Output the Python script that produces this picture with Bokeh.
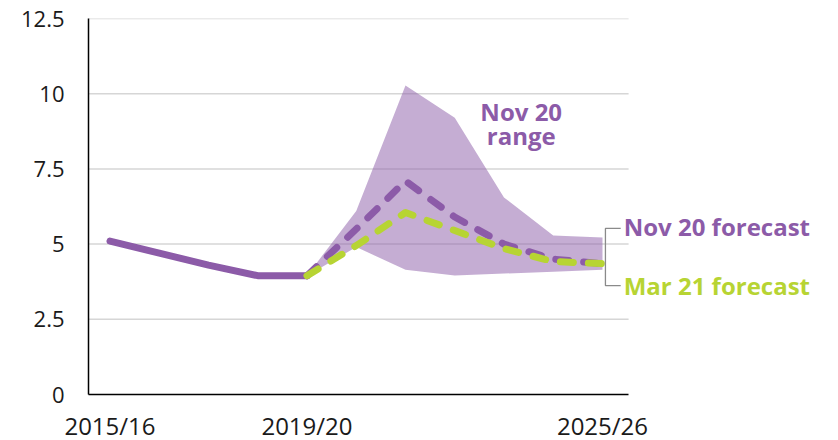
from bokeh.plotting import figure
from bokeh.models import Range1d, FixedTicker, Label
from bokeh.embed import file_html
from bokeh.resources import INLINE

years = ["2015/16", "2016/17", "2017/18", "2018/19", "2019/20", "2020/21",
         "2021/22", "2022/23", "2023/24", "2024/25", "2025/26"]
outturn = [5.1, 4.7, 4.3, 3.95, 3.95]
nov20_forecast = [3.95, 5.5, 7.1, 5.9, 5.0, 4.5, 4.35]
mar21_forecast = [3.95, 4.95, 6.05, 5.45, 4.85, 4.42, 4.35]
range_upper = [3.95, 6.1, 10.27, 9.2, 6.55, 5.29, 5.22]
range_lower = [3.95, 4.9, 4.15, 3.96, 4.02, 4.08, 4.15]
shown_ticks = ["2015/16", "2019/20", "2025/26"]
y_ticks = [0, 2.5, 5, 7.5, 10, 12.5]
y_labels = ["0", "2.5", "5", "7.5", "10", "12.5"]

PURPLE = "#8C5BA8"
GREEN = "#B7D433"
FONT = "Open Sans"

idx = list(range(len(years)))
hist_x = idx[:len(outturn)]
fc_x = idx[len(outturn) - 1:]

X0 = -0.4365          # left edge of plotting area
AXIS_END = 10.53      # where axis/grid stop
X1 = 14.63            # frame extends to the right so labels can sit there

p = figure(frame_width=742, frame_height=376, output_backend="svg", toolbar_location=None,
           x_range=Range1d(X0, X1), y_range=Range1d(0, 12.5),
           min_border_left=88, min_border_right=0, min_border_top=18,
           min_border_bottom=0)
p.outline_line_color = None
p.background_fill_color = "white"
p.xgrid.grid_line_color = None
p.ygrid.grid_line_color = None

# manual horizontal gridlines limited to axis extent
gy = [y for y in y_ticks if y > 0]
p.segment(x0=[X0] * len(gy), x1=[AXIS_END] * len(gy), y0=gy, y1=gy,
          line_color="#D6D6D6", line_width=1.5)

# range band
band_x = fc_x + fc_x[::-1]
band_y = range_upper + range_lower[::-1]
p.patch(band_x, band_y, fill_color=PURPLE, fill_alpha=0.5, line_color=None)

p.line(hist_x, outturn, line_color=PURPLE, line_width=7, line_cap="round", line_join="round")
p.line(fc_x, nov20_forecast, line_color=PURPLE, line_width=7, line_cap="round",
       line_join="round", line_dash="13 15")
p.line(fc_x, mar21_forecast, line_color=GREEN, line_width=7, line_cap="round",
       line_join="round", line_dash="13 15")

# bracket
bx0, bx1 = 10.06, 10.37
by0, by1 = 3.62, 5.52
p.line([bx1, bx0, bx0, bx1], [by1, by1, by0, by0], line_color="#8A8A8A", line_width=1.3)

# axes
p.xaxis.ticker = FixedTicker(ticks=[years.index(t) for t in shown_ticks])
p.xaxis.major_label_overrides = {years.index(t): t for t in shown_ticks}
p.xaxis.bounds = (X0, AXIS_END)
p.yaxis.ticker = FixedTicker(ticks=y_ticks)
p.yaxis.major_label_overrides = dict(zip(y_ticks, y_labels))
for ax in (p.xaxis, p.yaxis):
    ax.major_tick_line_color = None
    ax.minor_tick_line_color = None
    ax.major_tick_out = 0
    ax.major_tick_in = 0
    ax.minor_tick_out = 0
    ax.minor_tick_in = 0
    ax.axis_line_color = "black"
    ax.axis_line_width = 1.5
    ax.major_label_text_font = FONT
    ax.major_label_text_color = "#1a1a1a"
p.xaxis.major_label_text_font_size = "24px"
p.yaxis.major_label_text_font_size = "22px"
p.xaxis.major_label_standoff = 14
p.yaxis.major_label_standoff = 24

def lab(x, y, t, color, align="left", size="24px"):
    p.add_layout(Label(x=x, y=y, text=t, text_color=color, text_font=FONT,
                       text_font_size=size, text_font_style="bold",
                       text_align=align, text_baseline="middle"))

lab(8.35, 9.41, "Nov 20", PURPLE, "center")
lab(8.35, 8.62, "range", PURPLE, "center")
lab(10.43, 5.58, "Nov 20 forecast", PURPLE)
lab(10.43, 3.63, "Mar 21 forecast", GREEN)

open("out.html", "w").write(file_html(p, INLINE))
